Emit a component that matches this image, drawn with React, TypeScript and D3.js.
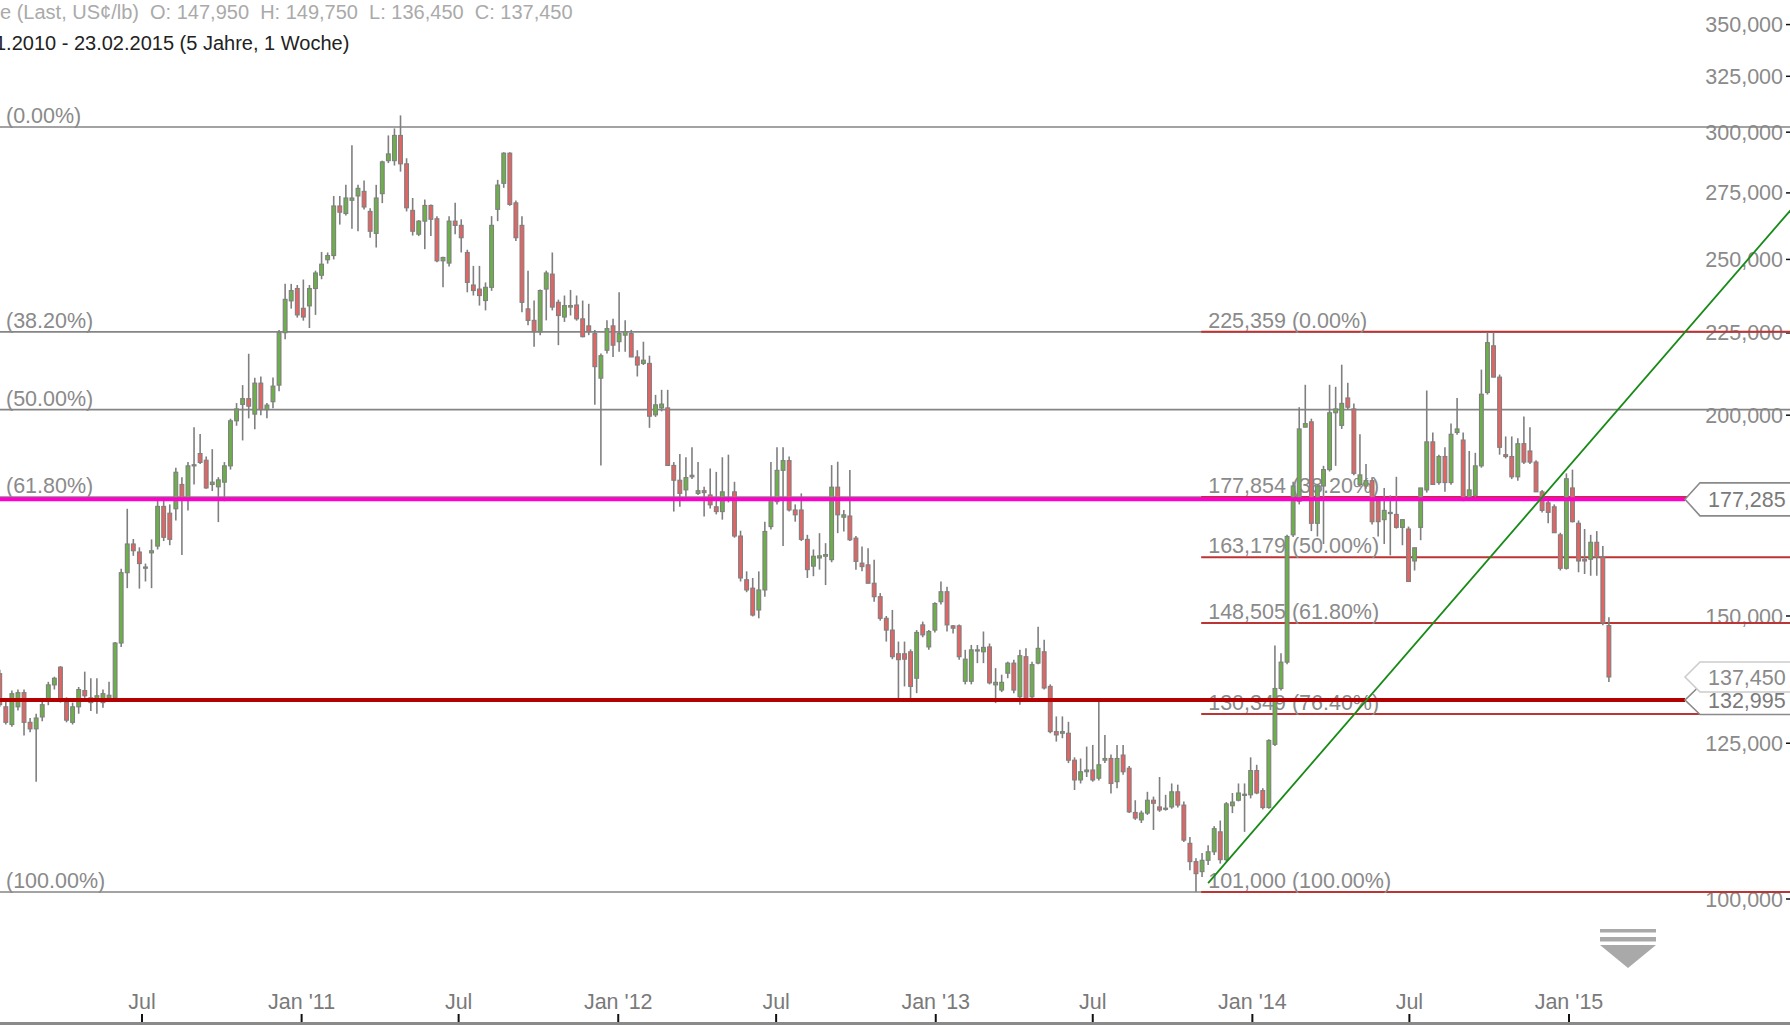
import React from 'react';
import * as d3 from 'd3';

const W = 1790;
const H = 1026;

// ---------- data ----------
const firstWeek = '2010-01-18';
// weekly candles: [open, high, low, close] (US¢/lb)
const weeklyOHLC: number[][] = [
  [138.1,138.9,131.7,132.1],[131.7,132.9,128.4,128.8],[128.4,134.8,128.0,134.2],[131.7,135.0,131.0,134.4],
  [134.4,135.0,126.4,128.8],[128.8,129.6,127.0,127.6],[127.6,130.4,118.3,129.6],[129.8,133.0,129.0,132.1],
  [132.9,136.5,132.0,135.9],[135.9,137.5,135.0,137.2],[139.4,139.6,132.5,132.9],[132.5,133.5,128.8,129.2],
  [128.8,132.5,128.4,131.7],[131.7,135.5,130.4,135.0],[134.8,138.5,133.4,133.8],[132.5,137.2,130.9,133.4],
  [132.9,137.2,130.4,133.8],[132.5,135.0,131.5,134.2],[133.4,136.5,133.0,133.9],[133.4,144.5,133.0,144.3],
  [144.3,160.5,143.5,159.6],[159.6,174.9,156.1,166.3],[166.3,167.5,163.5,164.7],[164.4,165.5,156.0,161.7],
  [160.9,161.7,157.6,160.7],[164.2,167.4,156.1,164.7],[165.8,177.0,165.0,175.5],[175.5,177.5,167.0,167.9],
  [173.8,176.0,166.0,167.4],[174.9,185.5,172.0,184.3],[181.1,183.0,163.7,177.7],[177.7,187.0,174.5,186.0],
  [186.0,196.6,181.1,186.3],[189.3,194.7,186.5,186.9],[187.5,188.5,180.0,180.2],[181.1,190.5,179.4,181.7],
  [180.5,183.0,171.6,182.3],[181.7,187.0,176.8,186.0],[186.0,199.0,185.0,198.4],[198.4,203.5,197.0,201.8],
  [203.1,208.8,192.9,204.8],[204.8,218.4,199.1,202.6],[200.3,211.0,196.0,209.4],[209.4,211.4,200.0,201.6],
  [201.6,203.5,199.1,202.9],[203.9,211.1,202.0,208.5],[208.8,226.0,207.0,225.1],[225.1,241.4,223.0,236.1],
  [235.6,241.4,233.0,239.1],[239.8,241.0,230.0,230.9],[233.1,242.9,229.0,230.2],[233.9,241.0,226.6,239.8],
  [239.8,246.0,230.9,245.2],[244.4,252.7,243.0,248.3],[249.9,252.5,248.5,251.4],[251.4,273.8,250.0,269.9],
  [269.9,273.8,262.8,267.5],[267.0,278.2,266.2,273.0],[272.1,294.4,261.2,273.0],[273.8,278.2,260.3,276.8],
  [275.6,279.9,268.5,269.5],[267.8,269.0,257.9,260.3],[259.5,278.2,254.3,273.0],[274.7,288.0,271.0,287.5],
  [288.0,298.6,287.0,290.8],[288.0,301.6,286.0,298.6],[298.6,307.3,283.5,286.7],[286.7,289.0,267.8,269.2],
  [268.2,273.0,258.7,260.3],[259.2,264.5,258.5,264.1],[264.1,272.4,253.7,270.1],[270.1,270.5,258.5,264.8],
  [265.0,266.0,249.0,249.5],[249.5,251.0,240.2,250.7],[248.7,266.0,247.5,264.1],[264.1,271.1,259.2,262.5],
  [262.5,264.8,252.5,257.9],[252.5,253.5,238.5,241.9],[241.0,247.7,237.4,239.1],[239.6,247.7,234.0,237.4],
  [235.7,241.9,232.4,240.2],[240.2,266.0,239.0,262.5],[268.6,280.2,264.1,278.1],[278.8,291.5,277.0,291.1],
  [291.1,291.5,270.0,270.5],[271.1,272.0,256.7,257.9],[262.5,266.0,231.8,235.1],[232.9,246.0,227.5,229.1],
  [229.1,235.7,220.6,225.4],[225.4,239.5,224.3,239.1],[239.6,246.0,229.1,245.2],[244.8,252.5,232.4,233.5],
  [235.1,236.0,221.1,230.7],[230.2,237.4,228.6,234.0],[233.5,239.3,230.7,234.0],[234.2,237.4,229.0,229.6],
  [229.6,235.7,223.6,223.8],[227.3,234.6,224.3,225.4],[224.8,226.0,203.0,214.4],[210.9,218.5,186.1,217.8],
  [219.5,229.1,218.5,226.4],[227.3,229.6,217.4,221.1],[222.2,238.5,219.0,224.8],[224.3,229.1,219.0,225.4],
  [224.8,226.0,217.4,217.4],[217.4,219.5,211.4,214.9],[215.4,222.2,214.9,216.4],[215.4,217.8,196.4,199.7],
  [200.1,205.9,199.5,203.0],[202.1,207.4,201.1,203.2],[202.1,207.4,186.0,186.1],[186.1,187.0,174.2,182.2],
  [182.2,189.2,175.4,178.8],[179.7,188.3,177.1,182.9],[183.1,191.0,182.5,183.5],[178.8,187.0,178.4,179.5],
  [179.5,180.5,173.0,179.0],[178.4,185.3,175.0,175.9],[175.4,184.4,173.5,174.2],[174.2,188.3,172.2,179.2],
  [177.5,189.0,176.5,177.1],[179.2,181.8,167.8,168.2],[168.2,169.5,157.6,158.4],[158.0,159.9,155.2,155.7],
  [156.1,158.4,149.9,150.2],[151.3,159.9,149.5,155.7],[155.7,171.7,154.2,169.3],[170.5,187.0,169.8,177.5],
  [176.7,191.0,176.0,184.8],[184.8,191.0,165.8,187.4],[187.4,188.5,174.2,174.6],[174.6,176.0,171.7,173.4],
  [174.6,178.8,167.0,167.4],[167.4,168.5,158.4,160.3],[161.1,165.0,158.8,163.4],[163.0,168.9,160.3,163.5],
  [163.4,166.5,156.8,163.8],[162.6,186.2,162.0,180.4],[180.4,187.1,168.9,173.4],[172.8,174.6,169.3,173.4],
  [173.1,184.9,167.0,167.3],[167.7,168.2,160.3,162.2],[161.8,165.7,159.9,161.0],[161.4,165.3,157.2,157.2],
  [157.2,162.6,153.1,154.2],[154.2,155.0,149.0,149.5],[149.5,150.0,144.6,147.0],[147.0,151.3,141.0,141.5],
  [142.1,144.6,133.0,140.9],[142.1,144.6,135.6,141.0],[142.5,143.0,133.3,135.6],[137.2,147.0,134.3,146.5],
  [148.1,148.8,145.5,146.0],[143.5,147.0,142.9,146.7],[147.0,153.0,146.5,152.7],[153.1,157.6,152.5,155.3],
  [155.3,156.4,146.7,148.1],[147.9,148.1,146.3,147.4],[147.9,148.2,140.9,141.5],[136.6,142.9,136.0,141.0],
  [136.6,143.9,136.0,142.9],[142.7,143.9,140.2,142.9],[142.5,146.7,140.2,143.4],[143.5,144.2,136.0,136.3],
  [135.9,139.2,132.4,136.4],[134.9,137.9,134.5,136.4],[138.2,140.5,137.2,140.2],[140.2,140.9,134.3,134.9],
  [133.6,142.9,132.1,141.7],[141.5,143.2,133.0,133.3],[133.6,140.5,133.0,139.9],[140.2,147.7,140.0,143.2],
  [142.5,145.0,135.0,135.3],[135.6,136.0,126.8,127.1],[127.1,129.9,125.3,126.5],[126.8,129.9,125.9,127.1],
  [126.8,128.9,121.5,122.0],[122.0,122.5,116.9,118.6],[118.6,122.3,118.0,120.0],[120.0,124.4,119.1,120.3],
  [120.3,124.7,118.3,118.6],[118.9,133.3,118.5,121.2],[122.0,126.5,121.5,122.3],[122.3,123.0,116.3,118.0],
  [118.3,124.7,117.2,122.3],[122.9,124.7,119.5,120.0],[120.6,121.0,113.1,113.3],[113.2,115.2,112.0,112.3],
  [112.0,113.5,111.5,113.1],[113.1,116.6,112.8,115.2],[115.2,115.8,110.4,114.7],[114.1,119.1,113.3,113.6],
  [113.9,116.1,113.5,113.9],[114.1,118.0,113.8,116.6],[116.6,117.8,114.0,114.4],[114.4,115.0,108.5,108.8],
  [108.3,109.3,104.2,105.5],[105.5,106.0,101.0,103.7],[104.0,106.8,103.2,105.7],[105.7,108.0,105.0,107.0],
  [107.0,111.0,106.5,110.6],[110.1,111.9,105.2,105.8],[105.8,114.9,105.5,114.6],[114.3,116.4,113.1,114.9],
  [115.2,118.0,115.0,116.4],[116.1,118.0,110.1,116.2],[116.1,122.5,115.5,120.2],[120.2,121.2,116.2,116.4],
  [116.8,117.2,113.7,114.0],[114.0,125.7,113.8,125.5],[124.8,143.8,124.5,135.2],[135.2,142.2,134.8,140.4],
  [140.4,168.5,140.0,168.1],[168.5,181.8,168.0,180.7],[176.8,202.3,176.0,196.1],[196.6,208.9,196.5,197.6],
  [198.1,199.0,169.4,171.3],[171.3,181.2,168.1,180.7],[180.7,186.0,166.3,185.0],[185.0,208.9,184.5,200.7],
  [200.7,208.3,186.0,201.8],[197.1,215.0,196.1,203.4],[205.0,209.5,201.5,202.3],[201.8,203.4,183.5,184.0],
  [181.1,194.6,180.5,183.6],[180.7,186.5,180.0,182.1],[182.1,183.0,171.0,171.7],[176.8,177.5,168.1,171.7],
  [172.2,180.2,166.3,174.5],[174.0,178.3,163.6,174.0],[173.5,183.1,170.0,170.3],[170.3,172.2,166.0,172.2],
  [169.9,170.5,157.6,157.6],[162.3,165.4,160.1,165.4],[170.3,180.2,167.2,180.2],[179.7,207.2,179.0,192.5],
  [192.5,195.1,181.1,181.1],[181.6,189.0,181.0,188.5],[188.5,191.0,179.2,181.6],[181.6,197.6,181.0,194.6],
  [195.1,205.0,194.5,196.1],[193.0,195.1,176.8,177.3],[177.8,190.0,177.3,179.7],[178.3,189.5,177.8,186.0],
  [186.0,213.5,185.5,206.1],[206.6,225.2,206.0,221.9],[220.9,225.2,211.2,211.2],[211.2,212.0,189.0,191.0],
  [189.0,194.0,188.0,188.5],[188.5,194.0,182.5,183.1],[183.1,193.5,182.1,192.0],[192.0,199.6,186.5,187.0],
  [190.0,196.6,186.5,187.0],[187.0,187.5,179.2,179.2],[179.2,179.7,174.0,174.5],[176.4,177.0,171.3,174.0],
  [175.4,176.0,169.0,169.0],[168.5,169.0,160.1,160.6],[160.6,184.0,160.3,182.6],[180.2,185.0,171.5,171.7],
  [171.3,172.0,159.7,162.3],[162.7,169.9,159.3,162.3],[162.7,168.5,158.9,166.7],[166.7,169.4,158.9,163.2],
  [163.2,165.8,148.0,148.5],[147.95,149.75,136.45,137.45],
];

const priceTicks = [100, 125, 150, 200, 225, 250, 275, 300, 325, 350];
const timeTicks = ['2010-07-01','2011-01-01','2011-07-01','2012-01-01','2012-07-01','2013-01-01','2013-07-01','2014-01-01','2014-07-01','2015-01-01'];
const timeTickLabels = ['Jul', "Jan '11", 'Jul', "Jan '12", 'Jul', "Jan '13", 'Jul', "Jan '14", 'Jul', "Jan '15"];

const leftFibHigh = 302.2;
const leftFibLow = 101.0;
const leftFibRatios = [0, 0.382, 0.5, 0.618, 1];
const leftFibLabels = ['(0.00%)', '(38.20%)', '(50.00%)', '(61.80%)', '(100.00%)'];

const rightFibStart = '2013-11-03';
const rightFibValues = [225.359, 177.854, 163.179, 148.505, 130.349, 101.0];
const rightFibPct = ['0.00%', '38.20%', '50.00%', '61.80%', '76.40%', '100.00%'];

const resistanceLevel = 177.285;
const supportLevel = 132.995;
const lastClose = 137.45;
const trendDates = ['2013-11-11', '2015-09-14'];
const trendPrices = [102.3, 268.5];

const headerTitle = 'e (Last, US¢/lb)  O: 147,950  H: 149,750  L: 136,450  C: 137,450';
const headerRange = '1.2010 - 23.02.2015 (5 Jahre, 1 Woche)';

// ---------- styles ----------
const FONT = '"Liberation Sans", Arial, Helvetica, sans-serif';
const GREEN = '#6cb04a';
const RED = '#e46464';
const OUTLINE = '#7f7f7f';
const GRAY_LINE = '#858585';
const FIB_RED = '#bd3434';
const MAGENTA = '#ff00cc';
const SUPPORT = '#b30000';
const TREND = '#178a17';

const parse = d3.utcParse('%Y-%m-%d');
const de = d3.formatLocale({ decimal: ',', thousands: '.', grouping: [3], currency: ['', ''] });
const fmt = de.format('.3f');

export default function App() {
  const x = d3.scaleUtc()
    .domain([parse('2010-07-01') as Date, parse('2015-01-01') as Date])
    .range([142, 1569]);
  const y = d3.scaleLog().domain([100, 350]).range([899, 899 - 698 * Math.log(3.5)]);

  const t0 = parse(firstWeek) as Date;
  const candles = weeklyOHLC.map((d, i) => ({
    date: d3.utcDay.offset(t0, 7 * i), o: d[0], h: d[1], l: d[2], c: d[3],
  }));

  const leftFib = leftFibRatios.map((r, i) => ({
    v: leftFibHigh - r * (leftFibHigh - leftFibLow), label: leftFibLabels[i],
  }));
  const rfx = x(parse(rightFibStart) as Date);

  const trendLine = d3.line<[Date, number]>().x(d => x(d[0])).y(d => y(d[1]));
  const trendPts: [Date, number][] = trendDates.map((d, i) => [parse(d) as Date, trendPrices[i]]);

  const boxTip = 1685;
  const box = (v: number, hh: number) => {
    const yy = y(v);
    return `M${boxTip},${yy} L${boxTip + 15},${yy - hh} L${W + 5},${yy - hh} L${W + 5},${yy + hh} L${boxTip + 15},${yy + hh} Z`;
  };

  return (
    <div style={{ position: 'absolute', left: 0, top: 0, width: W, height: H, overflow: 'hidden', background: '#fff' }}>
      <svg width={W} height={H} style={{ display: 'block', fontFamily: FONT }}>
        <rect x={0} y={0} width={W} height={H} fill="#fff" />

        {/* y axis labels */}
        {priceTicks.map(v => (
          <g key={'yt' + v}>
            <text x={1783} y={y(v)} dy="0.35em" textAnchor="end" fontSize={21.5} fill="#8a8a8a">{fmt(v)}</text>
            <line x1={1786} x2={1790} y1={y(v)} y2={y(v)} stroke="#111" strokeWidth={1.5} />
          </g>
        ))}

        {/* x axis */}
        <line x1={0} x2={W} y1={1023.5} y2={1023.5} stroke="#8a8a8a" strokeWidth={3} />
        {timeTicks.map((t, i) => {
          const xx = x(parse(t) as Date);
          return (
            <g key={'xt' + t}>
              <line x1={xx} x2={xx} y1={1014} y2={1022} stroke="#111" strokeWidth={2} />
              <text x={xx} y={1009} textAnchor="middle" fontSize={21.5} fill="#7a7a7a">{timeTickLabels[i]}</text>
            </g>
          );
        })}

        {/* left fibonacci (gray) */}
        {leftFib.map(f => (
          <g key={'lf' + f.label}>
            <line x1={0} x2={W} y1={y(f.v)} y2={y(f.v)} stroke={GRAY_LINE} strokeWidth={1.6} />
            <text x={6} y={y(f.v) - 4} fontSize={21.5} fill="#8a8a8a">{f.label}</text>
          </g>
        ))}

        {/* right fibonacci (red) */}
        {rightFibValues.map((v, i) => (
          <g key={'rf' + i}>
            <line x1={rfx} x2={W} y1={y(v)} y2={y(v)} stroke={FIB_RED} strokeWidth={2} />
            <text x={rfx + 7} y={y(v) - 4} fontSize={21.5} fill="#8a8a8a">{`${fmt(v)} (${rightFibPct[i]})`}</text>
          </g>
        ))}

        {/* candles */}
        {candles.map((d, i) => {
          const cx = x(d.date);
          const up = d.c >= d.o;
          const top = y(Math.max(d.o, d.c));
          const bot = y(Math.min(d.o, d.c));
          return (
            <g key={'c' + i}>
              <line x1={cx} x2={cx} y1={y(Math.max(d.h, d.o, d.c))} y2={y(Math.min(d.l, d.o, d.c))} stroke={OUTLINE} strokeWidth={1.6} />
              <rect x={cx - 1.9} y={top} width={3.8} height={Math.max(1.2, bot - top)} fill={up ? GREEN : RED} stroke={OUTLINE} strokeWidth={1.1} />
            </g>
          );
        })}

        {/* horizontal levels & trend line */}
        <line x1={0} x2={boxTip} y1={y(resistanceLevel)} y2={y(resistanceLevel)} stroke={MAGENTA} strokeWidth={4} />
        <line x1={0} x2={boxTip} y1={y(supportLevel)} y2={y(supportLevel)} stroke={SUPPORT} strokeWidth={4} />
        <path d={trendLine(trendPts) || ''} stroke={TREND} strokeWidth={1.8} fill="none" />

        {/* price boxes */}
        <path d={box(resistanceLevel, 16.5)} fill="#fff" stroke="#8a8a8a" strokeWidth={1.6} />
        <text x={1708} y={y(resistanceLevel)} dy="0.36em" fontSize={21.5} fill="#7a7a7a">{fmt(resistanceLevel)}</text>
        <path d={box(supportLevel, 14.5)} fill="#fff" stroke="#8a8a8a" strokeWidth={1.6} />
        <text x={1708} y={y(supportLevel)} dy="0.36em" fontSize={21.5} fill="#7a7a7a">{fmt(supportLevel)}</text>
        <path d={box(lastClose, 15)} fill="#fff" stroke="#cccccc" strokeWidth={1.6} />
        <text x={1708} y={y(lastClose)} dy="0.36em" fontSize={21.5} fill="#8a8a8a">{fmt(lastClose)}</text>

        {/* header */}
        <text x={0} y={19} fontSize={20} fill="#aaaaaa" style={{ whiteSpace: 'pre' }}>{headerTitle}</text>
        <text x={-5} y={50} fontSize={20} fill="#222">{headerRange}</text>

        {/* scroll indicator */}
        <rect x={1600} y={929} width={56} height={3.5} fill="#a9a9a9" />
        <rect x={1600} y={937} width={56} height={4.5} fill="#a9a9a9" />
        <path d="M1600,945 L1656,945 L1628,968 Z" fill="#a9a9a9" />
      </svg>
    </div>
  );
}
